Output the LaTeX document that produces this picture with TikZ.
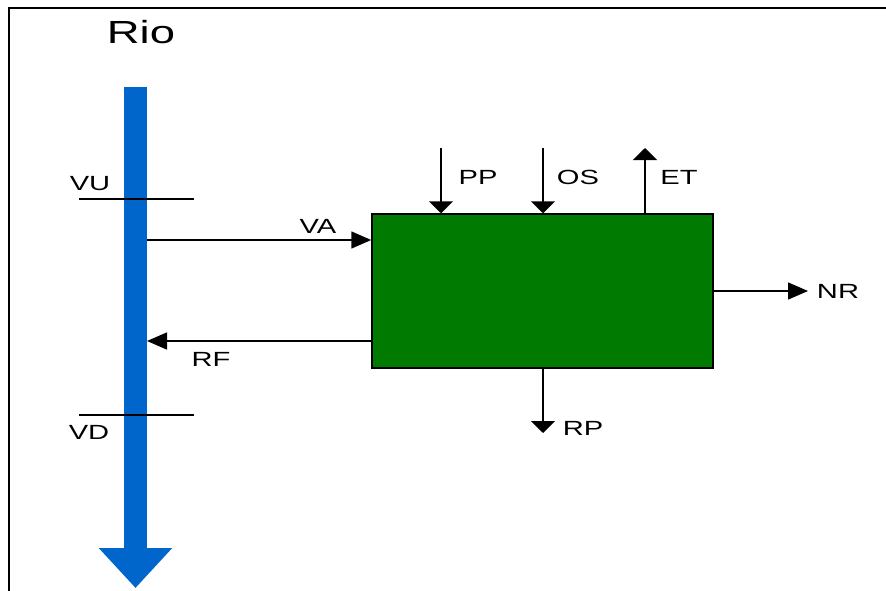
\documentclass[tikz,border=0pt]{standalone}
\usepackage{fontspec}
\setmainfont{Liberation Sans}
\usetikzlibrary{arrows.meta}
\definecolor{riverblue}{RGB}{0,102,204}
\definecolor{boxgreen}{RGB}{0,122,0}
\newcommand{\wide}[1]{\scalebox{1.42}[1]{#1}}
\begin{document}
\begin{tikzpicture}[x=1pt,y=-1pt,line width=1.5pt,
  font=\fontsize{20.5}{24}\selectfont,
  hflow/.style={draw=black,-{Triangle[length=20pt,width=17pt]}},
  vflow/.style={draw=black,line width=2pt,-{Triangle[length=12pt,width=24pt]}},
  tag/.style={inner sep=0pt,anchor=center},
  tank/.style={draw=black,fill=boxgreen,minimum width=341pt,
    minimum height=154pt,inner sep=0pt}]
  \useasboundingbox (0,0) rectangle (886,591);
  % frame, only top and left are visible
  \draw[line width=2pt] (9,600) -- (9,8) -- (900,8);
  % river
  \node[tag,font=\fontsize{32}{36}\selectfont] (rio) at (141,32) {\wide{Rio}};
  \coordinate (rtop) at (135.5,87);
  \coordinate (rbot) at (135.5,588);
  \draw[riverblue,line width=23pt,
    -{Triangle[length=40pt,width=71pt]}] (rtop) -- (rbot);
  % sections
  \coordinate (vua) at (79,199);
  \coordinate (vub) at (194,199);
  \coordinate (vda) at (79,415);
  \coordinate (vdb) at (194,415);
  \draw[line width=1.2pt] (vua) -- (vub);
  \draw[line width=1.2pt] (vda) -- (vdb);
  \node[tag] (vu) at (90,184) {\wide{VU}};
  \node[tag] (vd) at (89,432) {\wide{VD}};
  % reservoir
  \node[tank] (wb) at (542.5,291) {};
  \coordinate (va) at (147,240);
  \coordinate (rf) at (147,341);
  \draw[hflow] (va) -- (va -| wb.west);
  \draw[hflow] (rf -| wb.west) -- (rf);
  \node[tag] (valab) at (318,226) {\wide{VA}};
  \node[tag] (rflab) at (211,359) {\wide{RF}};
  \coordinate (pp) at (441,148);
  \coordinate (os) at (543,148);
  \coordinate (et) at (645,148);
  \draw[vflow] (pp) -- (pp |- wb.north);
  \draw[vflow] (os) -- (os |- wb.north);
  \draw[vflow] (et |- wb.north) -- (et);
  \node[tag] (pplab) at (478,177) {\wide{PP}};
  \node[tag] (oslab) at (578,177) {\wide{OS}};
  \node[tag] (etlab) at (679,177) {\wide{ET}};
  \coordinate (nr) at (808,291);
  \coordinate (rp) at (543,433);
  \draw[hflow] (wb.east) -- (nr);
  \draw[vflow] (rp |- wb.south) -- (rp);
  \node[tag] (nrlab) at (838,291) {\wide{NR}};
  \node[tag] (rplab) at (583,428) {\wide{RP}};
\end{tikzpicture}
\end{document}
